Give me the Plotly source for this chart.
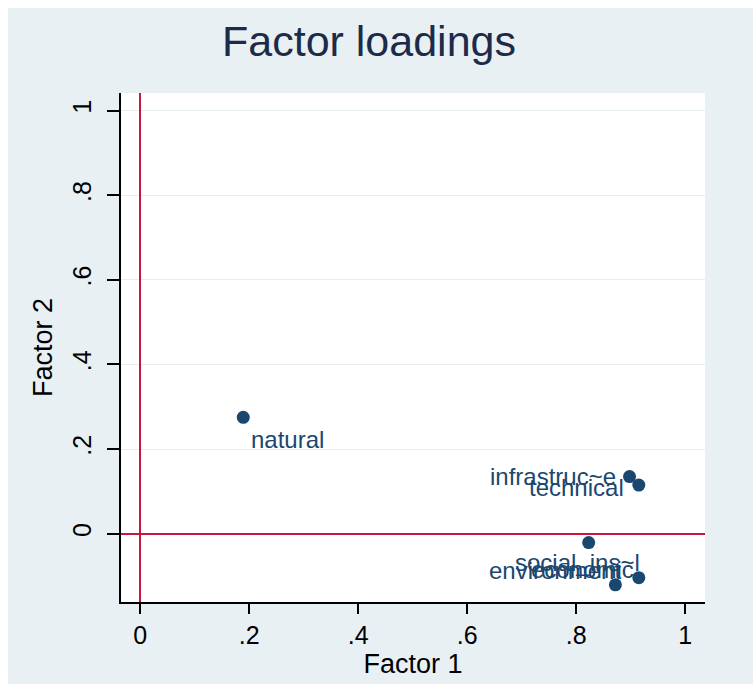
import plotly.graph_objects as go

# ---- data ----
variables = ["natural", "infrastruc~e", "technical", "social_ins~l", "economic", "environment"]
factor1 = [0.189, 0.898, 0.915, 0.823, 0.915, 0.872]
factor2 = [0.275, 0.135, 0.115, -0.021, -0.104, -0.121]
tick_vals = [0, 0.2, 0.4, 0.6, 0.8, 1.0]
tick_text = ["0", ".2", ".4", ".6", ".8", "1"]

# ---- label placement (style) ----
label_style = {
    "natural": dict(xanchor="left", xshift=6, yshift=-22),
    "infrastruc~e": dict(xanchor="right", xshift=-12, yshift=0),
    "technical": dict(xanchor="right", xshift=-13, yshift=-2),
    "social_ins~l": dict(xanchor="right", xshift=53, yshift=-20),
    "economic": dict(xanchor="right", xshift=-3, yshift=8),
    "environment": dict(xanchor="right", xshift=8, yshift=14),
}

NAVY = "#1a476f"
RED = "#c8163f"
BG = "#e8f0f3"
FONT = "Liberation Sans, Arial, sans-serif"

W, H = 753, 684
ML, MR, MT, MB = 121, 48, 93, 82
PW, PH = W - ML - MR, H - MT - MB

fig = go.Figure()
fig.add_trace(go.Scatter(
    x=factor1, y=factor2, mode="markers",
    marker=dict(size=13, color=NAVY, line=dict(width=0)),
    showlegend=False, hoverinfo="text", text=variables,
))

annotations = []
for name, xv, yv in zip(variables, factor1, factor2):
    st = label_style[name]
    annotations.append(dict(
        x=xv, y=yv, xref="x", yref="y", text=name, showarrow=False,
        xanchor=st["xanchor"], yanchor="middle",
        xshift=st["xshift"], yshift=st["yshift"],
        font=dict(family=FONT, size=24, color=NAVY),
    ))

# white outer border strips (left and top)
def px_x(px):
    return (px - ML) / PW

def px_y(py):
    return (H - MB - py) / PH

shapes = [
    dict(type="rect", xref="paper", yref="paper", x0=px_x(-20), x1=px_x(8),
         y0=px_y(H + 20), y1=px_y(-20), fillcolor="white", line=dict(width=0), layer="below"),
    dict(type="rect", xref="paper", yref="paper", x0=px_x(-20), x1=px_x(W + 20),
         y0=px_y(8), y1=px_y(-20), fillcolor="white", line=dict(width=0), layer="below"),
]

fig.update_layout(
    width=W, height=H,
    margin=dict(l=ML, r=MR, t=MT, b=MB, autoexpand=False),
    paper_bgcolor=BG, plot_bgcolor="white",
    font=dict(family=FONT, color="black"),
    title=dict(text="Factor loadings", x=369 / W, xanchor="center", xref="container",
               y=1 - 41 / H, yanchor="middle", yref="container",
               font=dict(family=FONT, size=43, color="#1c2b4a")),
    annotations=annotations,
    shapes=shapes,
    xaxis=dict(
        range=[-0.0354, 1.0365], tickmode="array", tickvals=tick_vals, ticktext=tick_text,
        ticks="outside", ticklen=10, tickwidth=1.5, tickcolor="black",
        showline=True, linecolor="black", linewidth=1.5, mirror=False,
        showgrid=False, zeroline=True, zerolinecolor=RED, zerolinewidth=1.6,
        tickfont=dict(family=FONT, size=25, color="black"),
        title=dict(text="Factor 1", font=dict(family=FONT, size=27, color="black"), standoff=2),
    ),
    yaxis=dict(
        range=[-0.1615, 1.0417], tickmode="array", tickvals=tick_vals, ticktext=tick_text,
        tickangle=-90, ticklabelstandoff=6,
        ticks="outside", ticklen=12, tickwidth=1.5, tickcolor="black",
        showline=True, linecolor="black", linewidth=1.5, mirror=False,
        showgrid=True, gridcolor="#e6eef1", gridwidth=1,
        zeroline=True, zerolinecolor=RED, zerolinewidth=1.6,
        tickfont=dict(family=FONT, size=25, color="black"),
        title=dict(text="Factor 2", font=dict(family=FONT, size=27, color="black"), standoff=8),
    ),
)

fig.write_html("out.html")
